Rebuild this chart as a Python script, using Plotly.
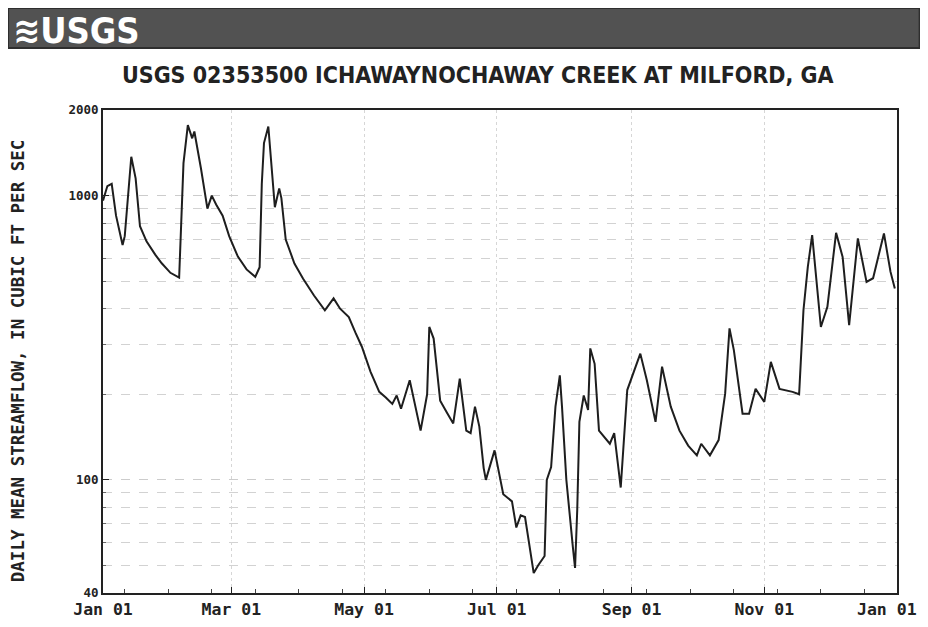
import plotly.graph_objects as go

# daily mean streamflow, 2001
dates = [
    "2001-01-01", "2001-01-03", "2001-01-05", "2001-01-07", "2001-01-10", "2001-01-11",
    "2001-01-14", "2001-01-16", "2001-01-18", "2001-01-21", "2001-01-25", "2001-01-28",
    "2001-02-01", "2001-02-05", "2001-02-07", "2001-02-09", "2001-02-11", "2001-02-12",
    "2001-02-15", "2001-02-18", "2001-02-20", "2001-02-22", "2001-02-25", "2001-02-28",
    "2001-03-04", "2001-03-08", "2001-03-12", "2001-03-14", "2001-03-15", "2001-03-16",
    "2001-03-18", "2001-03-19", "2001-03-21", "2001-03-23", "2001-03-24", "2001-03-26",
    "2001-03-30", "2001-04-03", "2001-04-08", "2001-04-13", "2001-04-17", "2001-04-20",
    "2001-04-24", "2001-04-27", "2001-04-30", "2001-05-04", "2001-05-08", "2001-05-11",
    "2001-05-14", "2001-05-16", "2001-05-18", "2001-05-22", "2001-05-25", "2001-05-27",
    "2001-05-30", "2001-05-31", "2001-06-02", "2001-06-05", "2001-06-08", "2001-06-11",
    "2001-06-14", "2001-06-17", "2001-06-19", "2001-06-21", "2001-06-23", "2001-06-25",
    "2001-06-26", "2001-06-30", "2001-07-04", "2001-07-08", "2001-07-10", "2001-07-12",
    "2001-07-14", "2001-07-16", "2001-07-18", "2001-07-20", "2001-07-23", "2001-07-24",
    "2001-07-26", "2001-07-28", "2001-07-30", "2001-07-31", "2001-08-02", "2001-08-05",
    "2001-08-06", "2001-08-07", "2001-08-08", "2001-08-10", "2001-08-12", "2001-08-13",
    "2001-08-15", "2001-08-17", "2001-08-20", "2001-08-22", "2001-08-24", "2001-08-27",
    "2001-08-30", "2001-09-02", "2001-09-05", "2001-09-08", "2001-09-12", "2001-09-15",
    "2001-09-19", "2001-09-23", "2001-09-27", "2001-10-01", "2001-10-03", "2001-10-07",
    "2001-10-11", "2001-10-14", "2001-10-16", "2001-10-18", "2001-10-22", "2001-10-25",
    "2001-10-28", "2001-11-01", "2001-11-04", "2001-11-08", "2001-11-14", "2001-11-17",
    "2001-11-19", "2001-11-21", "2001-11-23", "2001-11-27", "2001-11-30", "2001-12-04",
    "2001-12-07", "2001-12-10", "2001-12-14", "2001-12-18", "2001-12-21", "2001-12-26",
    "2001-12-29", "2001-12-31",
]
flow = [
    960, 1080, 1100, 850, 670, 720,
    1370, 1150, 780, 690, 620, 578,
    535, 515, 1300, 1770, 1590, 1680,
    1250, 900, 1000, 930, 850, 720,
    610, 550, 518, 560, 1100, 1530,
    1750, 1400, 910, 1060, 980, 700,
    577, 510, 445, 395, 435, 400,
    374, 330, 294, 240, 204, 195,
    185, 198, 178, 224, 175, 149,
    200, 345, 314, 190, 173, 158,
    227, 149, 146, 181, 154, 110,
    100, 127, 89, 84, 68, 75,
    74, 60, 47, 50, 54, 100,
    111, 181, 233, 181, 100, 58,
    49, 78, 160, 198, 176, 290,
    256, 149, 140, 134, 146, 94,
    207, 240, 278, 224, 160, 250,
    181, 149, 132, 122, 134, 122,
    138, 201, 341, 286, 171, 171,
    209, 188, 260, 209, 204, 200,
    395, 561, 726, 345, 406, 740,
    608, 350, 707, 497, 512, 736,
    540, 471,
]

title = "USGS 02353500 ICHAWAYNOCHAWAY CREEK AT MILFORD, GA"
ytitle = "DAILY MEAN STREAMFLOW, IN CUBIC FT PER SEC"
xticks = ["2001-01-01", "2001-03-01", "2001-05-01", "2001-07-01",
          "2001-09-01", "2001-11-01", "2002-01-01"]
xticktext = ["Jan 01", "Mar 01", "May 01", "Jul 01", "Sep 01", "Nov 01", "Jan 01"]
yticks = [40, 100, 1000, 2000]
yticktext = ["40", "100", "1000", "2000"]

mono = "DejaVu Sans Mono"
condensed = "DejaVu Sans Condensed, Liberation Sans Narrow, Liberation Sans"
xfont = dict(family=mono, size=16.5, color="#222", weight="bold")

# page body keeps its 8px margin, so the figure is 16px smaller than the window
fig = go.Figure()
fig.add_trace(go.Scatter(
    x=dates, y=flow, mode="lines",
    line=dict(color="#1e1e1e", width=2),
    showlegend=False,
))

fig.update_layout(
    width=912, height=611,
    margin=dict(l=95, r=23, t=102, b=26, autoexpand=False),
    paper_bgcolor="white",
    plot_bgcolor="white",
    xaxis=dict(
        automargin=False,
        range=["2001-01-01", "2002-01-01"],
        # last label sits on the right edge; it is drawn below as an annotation
        tickvals=xticks, ticktext=xticktext[:-1] + [""],
        tickfont=xfont,
        ticks="inside", ticklen=6, tickcolor="#222",
        showline=True, linecolor="#222", linewidth=2, mirror=True,
        showgrid=True, gridcolor="#d6d6d6", griddash="dot", gridwidth=1,
        minor=dict(tick0="2001-01-11", dtick=20 * 86400000, ticks="inside",
                   ticklen=4, tickcolor="#444", showgrid=False),
        zeroline=False,
    ),
    yaxis=dict(
        automargin=False,
        type="log",
        range=[1.60206, 3.30103],
        tickvals=yticks, ticktext=yticktext,
        tickfont=dict(family=mono, size=12.5, color="#222", weight="bold"),
        ticks="inside", ticklen=6, tickcolor="#222",
        showline=True, linecolor="#222", linewidth=2, mirror=True,
        showgrid=True, gridcolor="#cccccc", griddash="dash",
        minor=dict(dtick="D1", ticks="inside", ticklen=3, tickcolor="#666",
                   showgrid=True, gridcolor="#d2d2d2", griddash="dash"),
        zeroline=False,
    ),
    title=dict(
        text=title,
        font=dict(family=condensed, size=23, color="#222", weight="bold"),
        x=0.472, xref="paper", xanchor="center",
        y=0.89, yref="container", yanchor="middle",
    ),
)

fig.add_annotation(text=xticktext[-1], x=xticks[-1], xref="x", y=0, yref="paper",
                   xanchor="right", yanchor="top", xshift=22, yshift=-5,
                   showarrow=False, font=xfont)

# USGS banner across the top
fig.add_shape(type="rect", xref="paper", yref="paper",
              x0=-0.1196, x1=1.0285, y0=1.1284, y1=1.2112,
              fillcolor="#525252", line=dict(color="#2e2e2e", width=2), layer="below")
fig.add_annotation(text="<b>≋USGS</b>", xref="paper", yref="paper",
                   x=-0.116, y=1.1656, xanchor="left", yanchor="middle",
                   showarrow=False,
                   font=dict(family=condensed, size=36, color="white"))

# y-axis title
fig.add_annotation(text=ytitle, xref="paper", yref="paper",
                   x=-0.107, y=0.48, textangle=-90,
                   xanchor="center", yanchor="middle", showarrow=False,
                   font=dict(family=mono, size=17.5, color="#222", weight="bold"))

fig.write_html("out.html")
